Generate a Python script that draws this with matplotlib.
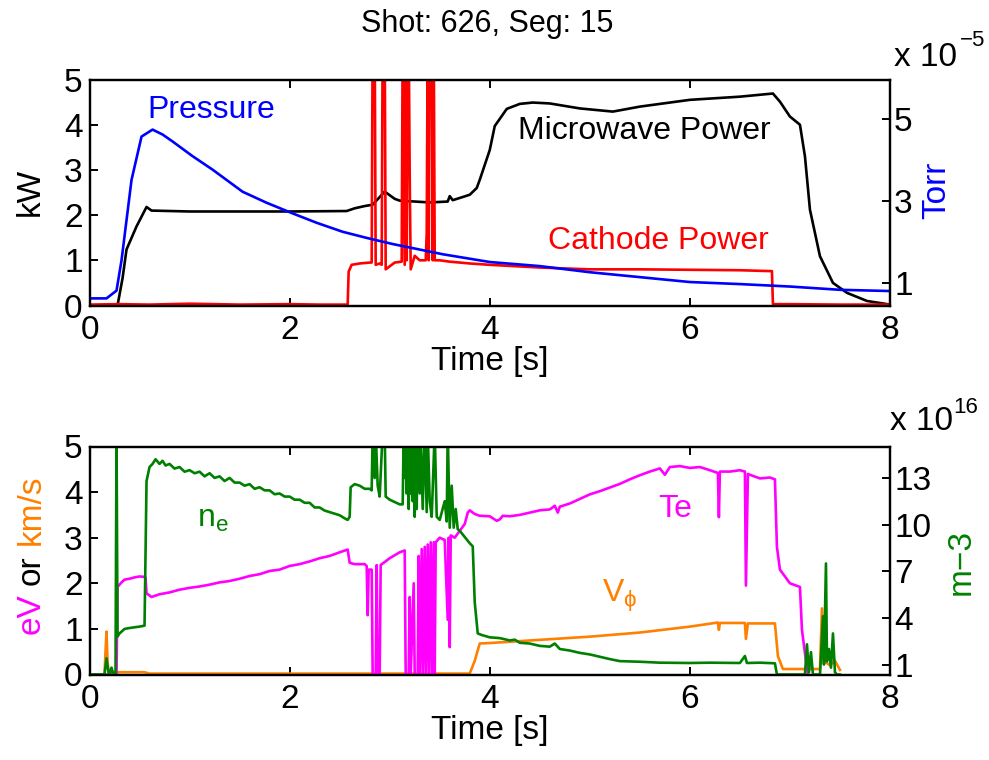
import matplotlib
matplotlib.use("Agg")
import matplotlib.pyplot as plt

plt.rcParams['font.family'] = ['Liberation Sans', 'DejaVu Sans']

# ---------------- data (top panel) ----------------
t_pressure = [0, 0.17, 0.27, 0.32, 0.42, 0.52, 0.63, 0.73, 0.83, 1.03, 1.23, 1.53, 1.77,
              2.03, 2.27, 2.53, 2.77, 3.03, 3.53, 4.0, 4.5, 5.0, 5.5, 6.0, 6.5, 7.0,
              7.5, 8.0]
pressure = [0.62, 0.62, 0.81, 1.55, 3.52, 4.58, 4.75, 4.63, 4.46, 4.10, 3.77, 3.23, 2.96,
            2.70, 2.47, 2.25, 2.10, 1.95, 1.70, 1.51, 1.41, 1.26, 1.14, 1.02, 0.97, 0.91,
            0.83, 0.80]  # 1e-5 Torr

t_microwave = [0, 0.28, 0.33, 0.37, 0.47, 0.57, 0.62, 1.0, 2.0, 2.57, 2.65, 2.75, 2.83,
               2.95, 3.05, 3.1, 3.4, 3.58, 3.6, 3.63, 3.73, 3.8, 3.87, 3.9, 4.0, 4.05,
               4.17, 4.3, 4.43, 4.6, 4.9, 5.23, 5.5, 6.0, 6.5, 6.83, 6.9, 7.0, 7.1,
               7.15, 7.2, 7.3, 7.43, 7.57, 7.77, 8.0]
microwave = [0.0, 0.0, 0.6, 1.24, 1.75, 2.18, 2.1, 2.08, 2.08, 2.09, 2.15, 2.2, 2.23,
             2.52, 2.36, 2.32, 2.28, 2.3, 2.42, 2.33, 2.4, 2.45, 2.6, 2.78, 3.44, 3.97,
             4.35, 4.46, 4.49, 4.47, 4.36, 4.29, 4.40, 4.55, 4.62, 4.69, 4.51, 4.18, 4.0,
             3.3, 2.12, 1.09, 0.5, 0.28, 0.1, 0.02]  # kW

t_cathode = [0, 0.3, 0.6, 1.0, 1.5, 2.0, 2.3, 2.58, 2.59, 2.62, 2.7, 2.8, 2.82, 2.83,
             2.85, 2.86, 2.9, 2.92, 2.93, 2.95, 2.96, 3.05, 3.12, 3.13, 3.15, 3.16,
             3.17, 3.18, 3.19, 3.2, 3.21, 3.25, 3.3, 3.36, 3.37, 3.38, 3.39, 3.4, 3.42,
             3.43, 3.44, 3.45, 3.5, 3.6, 3.8, 4.0, 4.5, 5.0, 5.5, 6.0, 6.5, 6.82,
             6.83, 7.0, 7.5, 8.0]
cathode = [0.02, 0.03, 0.02, 0.04, 0.02, 0.03, 0.02, 0.02, 0.75, 0.9, 0.93, 0.95, 0.95,
           6, 6, 0.9, 0.93, 0.9, 6, 6, 0.8, 0.95, 0.97, 6, 0.9, 6, 1.0, 6, 6, 2.9, 0.8,
           1.1, 1.0, 1.0, 1.6, 6, 1.0, 6, 6, 1.0, 6, 1.0, 1.0, 0.97, 0.93, 0.9, 0.84,
           0.8, 0.8, 0.79, 0.78, 0.76, 0.03, 0.03, 0.02, 0.02]  # kW

# ---------------- data (bottom panel) ----------------
t_ne = [0, 0.15, 0.17, 0.19, 0.2, 0.22, 0.24, 0.26, 0.27, 0.28, 0.3, 0.35, 0.4, 0.5,
        0.55, 0.57, 0.6, 0.63, 0.66, 0.7, 0.73, 0.76, 0.8, 0.85, 0.9, 0.95, 1.0, 1.05,
        1.1, 1.15, 1.2, 1.25, 1.3, 1.35, 1.4, 1.45, 1.5, 1.55, 1.6, 1.65, 1.7, 1.75,
        1.8, 1.85, 1.9, 1.95, 2.0, 2.05, 2.1, 2.15, 2.2, 2.25, 2.3, 2.35, 2.4, 2.45,
        2.5, 2.55, 2.58, 2.6, 2.61, 2.65, 2.7, 2.75, 2.8, 2.82, 2.83, 2.85, 2.86, 2.88,
        2.9, 2.93, 2.95, 2.96, 3.0, 3.1, 3.13, 3.14, 3.15, 3.16, 3.17, 3.18, 3.19, 3.2,
        3.21, 3.22, 3.23, 3.24, 3.25, 3.26, 3.27, 3.28, 3.3, 3.31, 3.33, 3.35, 3.37,
        3.38, 3.4, 3.42, 3.45, 3.47, 3.5, 3.55, 3.57, 3.58, 3.6, 3.62, 3.64, 3.66, 3.68,
        3.7, 3.75, 3.8, 3.83, 3.85, 3.88, 3.92, 4.0, 4.1, 4.2, 4.25, 4.3, 4.4, 4.5,
        4.6, 4.65, 4.7, 4.8, 4.9, 5.0, 5.1, 5.2, 5.3, 5.5, 5.7, 6.0, 6.2, 6.5, 6.55,
        6.57, 6.7, 6.85, 6.87, 7.15, 7.17, 7.19, 7.21, 7.23, 7.3, 7.31, 7.33, 7.34,
        7.36, 7.37, 7.39, 7.41, 7.43, 7.45, 7.47, 7.5]
ne = [0.36, 0.36, 1.4, 0.5, 0.36, 0.8, 0.36, 0.36, 16, 2.8, 3.0, 3.29, 3.35, 3.44,
      3.5, 12.8, 13.7, 13.9, 14.2, 13.9, 14.1, 13.8, 13.9, 13.6, 13.7, 13.4, 13.5, 13.3,
      13.4, 13.1, 13.3, 13.0, 13.1, 12.8, 13.0, 12.7, 12.7, 12.5, 12.6, 12.3, 12.4, 12.2,
      12.2, 11.95, 12.0, 11.8, 11.8, 11.6, 11.6, 11.4, 11.4, 11.1, 11.1, 10.9, 10.8, 10.7,
      10.6, 10.4, 10.3, 10.5, 12.4, 12.6, 12.5, 12.3, 12.3, 12.2, 16, 13.0, 16, 12.5,
      11.8, 16, 16, 11.8, 11.6, 11.3, 11.3, 16, 13, 16, 12, 16, 11, 16,
      12, 16, 11.5, 16, 10.5, 16, 11, 16, 12, 16, 11, 16, 10.8,
      16, 11.5, 10.5, 16, 10.5, 10.3, 11.5, 10.2, 16, 9.8, 12.5, 9.8, 11, 9.7,
      9.6, 9.2, 8.8, 8.6, 5.0, 3.0, 2.9, 2.75, 2.7, 2.55, 2.6, 2.4, 2.35, 2.2,
      2.15, 2.35, 2.0, 1.9, 1.75, 1.65, 1.5, 1.35, 1.22, 1.18, 1.12, 1.1, 1.12, 1.1, 1.55,
      1.1, 1.12, 1.08, 0.36, 0.36, 2.3, 0.5, 1.8, 0.36, 0.36, 1.5, 4.1, 1.0,
      7.5, 1.2, 2.0, 0.8, 3.0, 0.5, 0.36, 0.36]  # 1e16 m^-3

t_te = [0, 0.27, 0.28, 0.32, 0.35, 0.4, 0.45, 0.5, 0.55, 0.56, 0.57, 0.62, 0.7, 0.8,
        0.9, 1.0, 1.1, 1.2, 1.3, 1.4, 1.5, 1.6, 1.7, 1.8, 1.9, 2.0, 2.1, 2.2, 2.3, 2.4,
        2.5, 2.58, 2.6, 2.65, 2.75, 2.77, 2.78, 2.79, 2.82, 2.83, 2.86, 2.87, 2.88, 2.9,
        2.91, 3.0, 3.1, 3.15, 3.16, 3.19, 3.2, 3.21, 3.24, 3.25, 3.28, 3.29, 3.3, 3.32,
        3.33, 3.35, 3.36, 3.38, 3.39, 3.41, 3.42, 3.44, 3.45, 3.46, 3.5, 3.55, 3.58, 3.59,
        3.6, 3.61, 3.65, 3.7, 3.75, 3.78, 3.8, 3.85, 3.9, 4.0, 4.07, 4.1, 4.13, 4.2, 4.3,
        4.4, 4.5, 4.6, 4.65, 4.68, 4.7, 4.8, 4.9, 5.0, 5.1, 5.2, 5.3, 5.4, 5.5, 5.6,
        5.7, 5.75, 5.8, 5.9, 6.0, 6.1, 6.2, 6.28, 6.29, 6.3, 6.4, 6.5, 6.55, 6.56, 6.58,
        6.6, 6.7, 6.8, 6.85, 6.87, 6.9, 7.0, 7.1, 7.12, 7.16, 7.18]
te = [0, 0, 1.92, 2.02, 2.08, 2.1, 2.13, 2.15, 2.14, 2.13, 1.78, 1.7, 1.76, 1.8,
      1.86, 1.9, 1.93, 1.97, 2.02, 2.05, 2.1, 2.16, 2.2, 2.27, 2.3, 2.38, 2.42, 2.48, 2.55, 2.6,
      2.68, 2.74, 2.45, 2.42, 2.42, 2.38, 1.3, 2.3, 2.3, 0, 0, 2.4, 0, 0,
      2.4, 2.55, 2.68, 2.72, 0, 0, 1.7, 0, 2.0, 0, 0, 2.6, 0, 2.75,
      0, 2.8, 0, 2.85, 0, 2.9, 0, 2.9, 0, 2.9, 3.0, 2.95, 1.2, 3.0,
      0.6, 3.05, 3.0, 3.15, 3.3, 3.55, 3.6, 3.52, 3.48, 3.47, 3.37, 3.4, 3.48, 3.47, 3.5,
      3.55, 3.6, 3.62, 3.7, 3.55, 3.68, 3.75, 3.85, 3.95, 4.02, 4.1, 4.18, 4.28, 4.37, 4.45,
      4.52, 4.38, 4.55, 4.57, 4.53, 4.55, 4.48, 4.42, 3.45, 4.45, 4.45, 4.48, 4.45, 1.95, 4.4,
      4.38, 4.3, 4.32, 4.28, 2.8, 2.3, 2.0, 1.92, 0.98, 0.3, 0.0]  # eV

t_vphi = [0, 0.15, 0.16, 0.17, 0.18, 0.19, 0.55, 0.6, 3.8, 3.85, 3.9, 4.0, 4.5, 5.0,
          5.5, 6.0, 6.28, 6.29, 6.3, 6.55, 6.56, 6.58, 6.85, 6.88, 6.93, 7.2, 7.3, 7.32,
          7.34, 7.4, 7.45, 7.5]
vphi = [0, 0, 0.5, 0.94, 0.3, 0.05, 0.05, 0.02, 0.02, 0.3, 0.68, 0.69, 0.76, 0.83,
        0.92, 1.05, 1.14, 0.98, 1.13, 1.13, 0.78, 1.12, 1.12, 0.4, 0.12, 0.12, 0.12, 1.45,
        0.3, 0.2, 0.3, 0.1]  # km/s

x_ticks = [0, 2, 4, 6, 8]
kw_ticks = [0, 1, 2, 3, 4, 5]
torr_ticks = [1, 3, 5]
ev_ticks = [0, 1, 2, 3, 4, 5]
ne_ticks = [1, 4, 7, 10, 13]

# ---------------- figure ----------------
W, H = 989, 760
fig = plt.figure(figsize=(W / 100, H / 100), dpi=100)

def rect(x0, y0, x1, y1):
    return [x0 / W, 1 - y1 / H, (x1 - x0) / W, (y1 - y0) / H]

FS = 24
AFS = 23
LW = 1.9
ORANGE = '#FF8000'
GREEN = '#008000'


def style_axes(ax, side):
    for s in ax.spines.values():
        s.set_linewidth(1.6)
    ax.tick_params(direction='in', length=6, width=1.4, labelsize=FS)
    if side == 'left':
        ax.tick_params(axis='y', left=True, right=False, pad=5)
        ax.tick_params(axis='x', top=True, bottom=True, pad=7)
    else:
        ax.tick_params(axis='y', left=False, right=True, pad=3)


# Top panel
ax1 = fig.add_axes(rect(89.5, 79.5, 890, 305.5))
ax1.plot(t_microwave, microwave, color='black', lw=LW)
ax1.plot(t_cathode, cathode, color='red', lw=LW)
ax1.set_xlim(0, 8)
ax1.set_ylim(0, 5)
ax1.set_xticks(x_ticks)
ax1.set_yticks(kw_ticks)
ax1.set_xlabel('Time [s]', fontsize=FS, labelpad=0)
style_axes(ax1, 'left')
ax1.text(1.22, 4.33, 'Pressure', color='blue', fontsize=AFS, ha='center', va='center')
ax1.text(5.54, 3.87, 'Microwave Power', color='black', fontsize=AFS, ha='center', va='center')
ax1.text(5.69, 1.42, 'Cathode Power', color='red', fontsize=AFS, ha='center', va='center')

ax1r = ax1.twinx()
ax1r.plot(t_pressure, pressure, color='blue', lw=LW)
ax1r.set_ylim(0.446, 5.976)
ax1r.set_yticks(torr_ticks)
style_axes(ax1r, 'right')

# Bottom panel
ax2 = fig.add_axes(rect(89.5, 446.5, 890, 674.5))
ax2.plot(t_vphi, vphi, color=ORANGE, lw=LW)
ax2.plot(t_te, te, color='magenta', lw=LW)
ax2.set_xlim(0, 8)
ax2.set_ylim(0, 5)
ax2.set_xticks(x_ticks)
ax2.set_yticks(ev_ticks)
ax2.set_xlabel('Time [s]', fontsize=FS, labelpad=0)
style_axes(ax2, 'left')
ax2.text(1.23, 3.41, r'n$_\mathregular{e}$', color=GREEN, fontsize=AFS, ha='center', va='center')
ax2.text(5.85, 3.63, 'Te', color='magenta', fontsize=AFS, ha='center', va='center')
ax2.text(5.3, 1.72, r'V$_\mathregular{\phi}$', color=ORANGE, fontsize=AFS, ha='center', va='center')

ax2r = ax2.twinx()
ax2r.plot(t_ne, ne, color=GREEN, lw=LW)
ax2r.set_ylim(0.36, 15.02)
ax2r.set_yticks(ne_ticks)
style_axes(ax2r, 'right')

# Title and axis labels placed in figure pixels
def ftext(x, y, s, **kw):
    fig.text(x / W, 1 - y / H, s, **kw)

ftext(487, 24, 'Shot: 626, Seg: 15', fontsize=22, ha='center', va='center')
ftext(30, 192, 'kW', fontsize=FS, rotation=90, ha='center', va='center')
ftext(937, 190, 'Torr', fontsize=FS, color='blue', rotation=90, ha='center', va='center')
ftext(925, 57, 'x 10', fontsize=FS, ha='center', va='center')
ftext(973, 41, '\u22125', fontsize=16, ha='center', va='center')

ftext(31, 614, 'eV', fontsize=FS, color='magenta', rotation=90, ha='center', va='center')
ftext(31, 570, 'or', fontsize=FS, color='black', rotation=90, ha='center', va='center')
ftext(31, 510, 'km/s', fontsize=FS, color=ORANGE, rotation=90, ha='center', va='center')
ftext(961, 562, 'm\u22123', fontsize=FS, color=GREEN, rotation=90, ha='center', va='center')
ftext(921, 422, 'x 10', fontsize=FS, ha='center', va='center')
ftext(966, 407, '16', fontsize=16, ha='center', va='center')

fig.savefig('out.png', dpi=100)
